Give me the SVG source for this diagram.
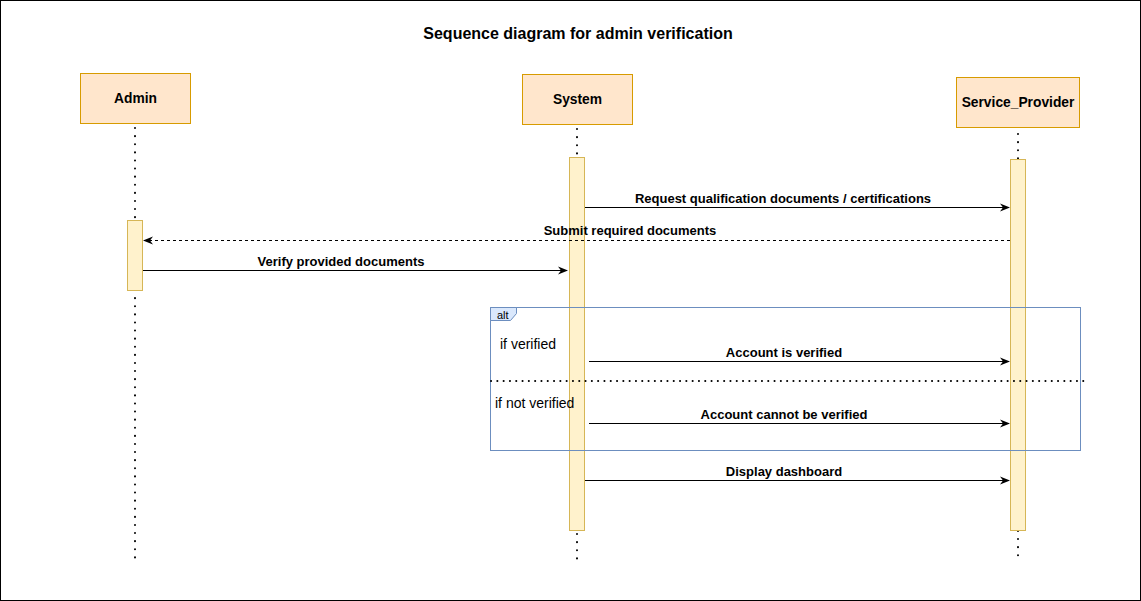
<svg xmlns="http://www.w3.org/2000/svg" width="1141" height="601" viewBox="0 0 1141 601">
<defs>
<style>
.actor{fill:#ffe6cc;stroke:#d79b00;stroke-width:1}
.act{fill:#fff2cc;stroke:#d6b656;stroke-width:1}
.life{stroke:#000;stroke-width:2;stroke-dasharray:0.1 8;stroke-linecap:round;fill:none}
.msg{stroke:#000;stroke-width:1;fill:none;marker-end:url(#arr)}
.ret{stroke:#000;stroke-width:1;fill:none;stroke-dasharray:3 3;marker-end:url(#arr)}
.lbl{font-family:"Liberation Sans",Arial,sans-serif;font-size:13px;font-weight:bold;fill:#000;text-anchor:middle}
.name{font-family:"Liberation Sans",Arial,sans-serif;font-size:13.8px;font-weight:bold;fill:#000;text-anchor:middle}
.txt{font-family:"Liberation Sans",Arial,sans-serif;font-size:14px;fill:#000}
</style>
<marker id="arr" viewBox="0 0 10 10" refX="9" refY="5" markerWidth="10" markerHeight="10" markerUnits="userSpaceOnUse" orient="auto">
<path d="M0,1 L10,5 L0,9 L3,5 Z" fill="#000"/>
</marker>
</defs>
<rect x="0.5" y="0.5" width="1140" height="600" fill="#fff" stroke="#000"/>
<text x="578" y="38.5" font-family="'Liberation Sans',Arial,sans-serif" font-size="16" font-weight="bold" text-anchor="middle">Sequence diagram for admin verification</text>

<g id="lifelines">
<line class="life" x1="135" y1="128" x2="135" y2="560"/>
<line class="life" x1="577" y1="129" x2="577" y2="560"/>
<line class="life" x1="1018" y1="134" x2="1018" y2="560"/>
</g>

<g id="admin">
<rect class="actor" x="80.5" y="73.5" width="110" height="50"/>
<text class="name" x="135.5" y="103">Admin</text>
</g>
<g id="system">
<rect class="actor" x="522.5" y="74.5" width="110" height="50"/>
<text class="name" x="577.5" y="104">System</text>
</g>
<g id="service_provider">
<rect class="actor" x="956.5" y="77.5" width="123" height="50"/>
<text class="name" x="1018" y="107">Service_Provider</text>
</g>

<g id="activations">
<rect class="act" x="127.5" y="220.5" width="15" height="70"/>
<rect class="act" x="569.5" y="157.5" width="15" height="373"/>
<rect class="act" x="1010.5" y="159.5" width="15" height="371"/>
</g>

<g id="alt_frame">
<rect x="490.5" y="307.5" width="590" height="143" fill="none" stroke="#6c8ebf"/>
<path d="M490.5,307.5 H516.5 V313.5 L510.5,320.5 H490.5 Z" fill="#dae8fc" stroke="#6c8ebf"/>
<text x="497" y="318.5" font-family="'Liberation Sans',Arial,sans-serif" font-size="11" fill="#000">alt</text>
<line x1="491" y1="381" x2="1085" y2="381" stroke="#000" stroke-width="2" stroke-dasharray="0.1 6.2" stroke-linecap="round"/>
<text class="txt" x="500" y="349">if verified</text>
<text class="txt" x="495" y="408">if not verified</text>
</g>

<g id="connectors">
<line class="msg" x1="585" y1="207.5" x2="1009" y2="207.5"/>
<text class="lbl" x="783" y="203">Request qualification documents / certifications</text>
<line class="ret" x1="1010" y1="240.5" x2="144" y2="240.5"/>
<text class="lbl" x="630" y="235">Submit required documents</text>
<line class="msg" x1="143" y1="270.5" x2="567" y2="270.5"/>
<text class="lbl" x="341" y="266">Verify provided documents</text>
<line class="msg" x1="589" y1="361.5" x2="1009" y2="361.5"/>
<text class="lbl" x="784" y="357">Account is verified</text>
<line class="msg" x1="589" y1="423.5" x2="1009" y2="423.5"/>
<text class="lbl" x="784" y="419">Account cannot be verified</text>
<line class="msg" x1="585" y1="480.5" x2="1009" y2="480.5"/>
<text class="lbl" x="784" y="476">Display dashboard</text>
</g>
</svg>
